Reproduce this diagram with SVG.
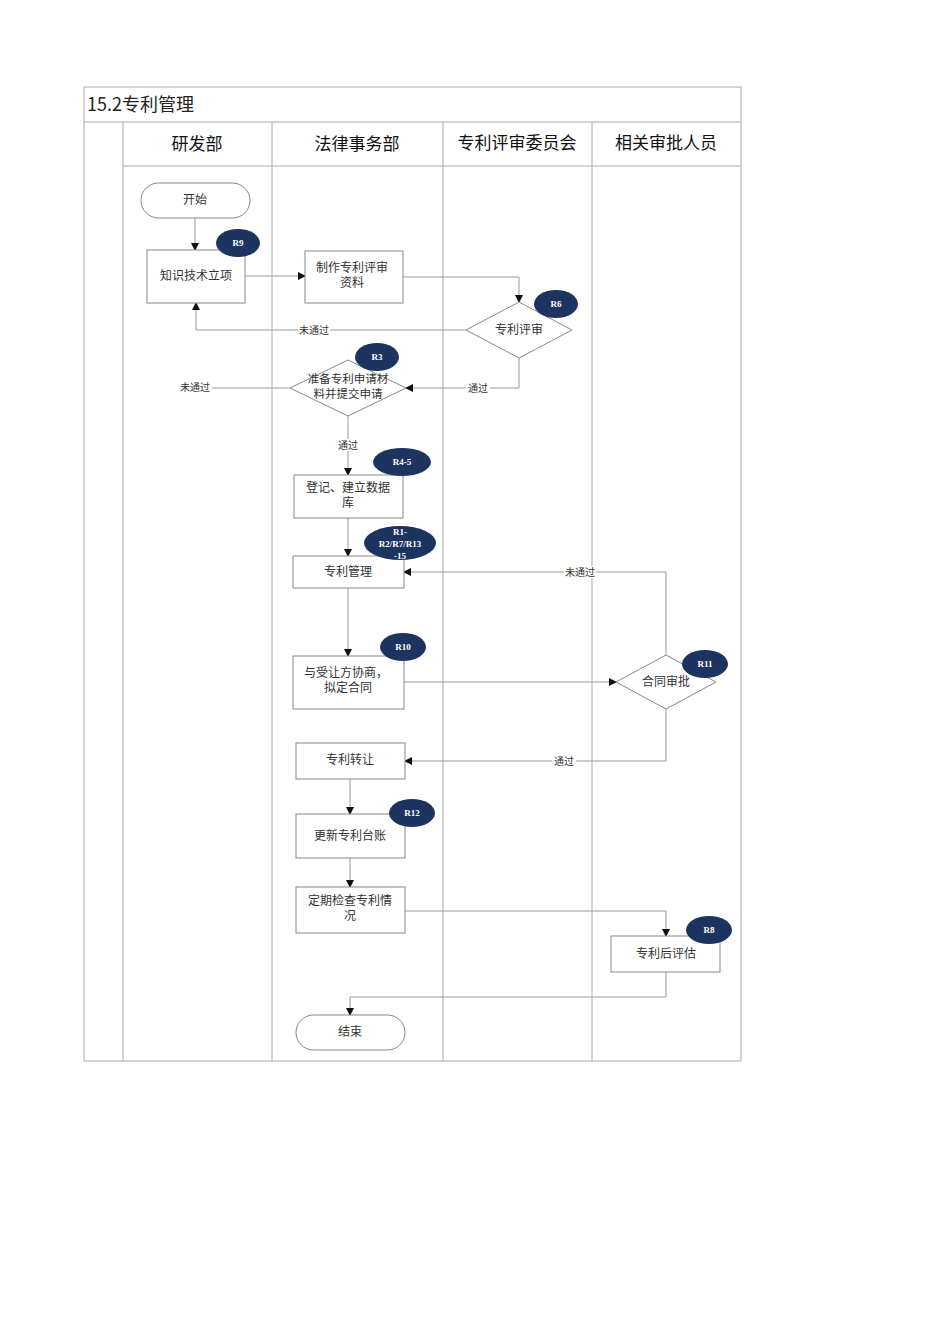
<svg xmlns="http://www.w3.org/2000/svg" width="950" height="1344" viewBox="0 0 950 1344">
<defs>
<style>
.t{font-family:"Noto Sans CJK SC","Liberation Serif",serif;fill:#333;text-anchor:middle}
.n{font-size:12px}
.s{font-size:10px}
.h{font-size:17px;fill:#111}
.b{fill:#fff;stroke:#888;stroke-width:1}
.g{stroke:#aaa;stroke-width:1;fill:none}
.c{stroke:#999;stroke-width:1;fill:none}
.r{fill:#1d3461}
.rt{font-family:"Liberation Serif",serif;font-size:9px;font-weight:bold;fill:#fff;text-anchor:middle}
.lb{fill:#fff}
</style>
<marker id="a" markerWidth="8" markerHeight="8" refX="7" refY="4" orient="auto" markerUnits="userSpaceOnUse"><path d="M0,0L8,4L0,8z" fill="#111"/></marker>
</defs>
<rect width="950" height="1344" fill="#fff"/>
<g id="table">
<rect x="84" y="87" width="657" height="974" class="g"/>
<line x1="84" y1="122" x2="741" y2="122" class="g"/>
<line x1="123" y1="166" x2="741" y2="166" class="g"/>
<line x1="123" y1="122" x2="123" y2="1061" class="g"/>
<line x1="272" y1="122" x2="272" y2="1061" class="g"/>
<line x1="443" y1="122" x2="443" y2="1061" class="g"/>
<line x1="592" y1="122" x2="592" y2="1061" class="g"/>
<text x="87" y="111" class="t" style="text-anchor:start;font-size:18px;fill:#222">15.2专利管理</text>
<text x="197" y="150" class="t h">研发部</text>
<text x="357" y="150" class="t h">法律事务部</text>
<text x="517" y="149" class="t h">专利评审委员会</text>
<text x="666" y="149" class="t h">相关审批人员</text>
</g>
<g id="connectors">
<path d="M195,218V250" class="c" marker-end="url(#a)"/>
<path d="M245,276H305" class="c" marker-end="url(#a)"/>
<path d="M403,277H519V302" class="c" marker-end="url(#a)"/>
<path d="M466,330H196V303" class="c" marker-end="url(#a)"/>
<path d="M519,358V388H406" class="c" marker-end="url(#a)"/>
<path d="M290,388H196" class="c"/>
<path d="M348,416V475" class="c" marker-end="url(#a)"/>
<path d="M348,518V556" class="c" marker-end="url(#a)"/>
<path d="M348,588V656" class="c" marker-end="url(#a)"/>
<path d="M404,682H616" class="c" marker-end="url(#a)"/>
<path d="M666,655V572H404" class="c" marker-end="url(#a)"/>
<path d="M666,709V761H405" class="c" marker-end="url(#a)"/>
<path d="M350,779V814" class="c" marker-end="url(#a)"/>
<path d="M350,858V887" class="c" marker-end="url(#a)"/>
<path d="M405,911H666V936" class="c" marker-end="url(#a)"/>
<path d="M666,972V997H350V1015" class="c" marker-end="url(#a)"/>
<rect x="298" y="324" width="32" height="12" class="lb"/><text x="314" y="334" class="t s">未通过</text>
<rect x="466" y="382" width="24" height="12" class="lb"/><text x="478" y="392" class="t s">通过</text>
<rect x="178" y="381" width="34" height="12" class="lb"/><text x="195" y="391" class="t s">未通过</text>
<rect x="336" y="439" width="24" height="12" class="lb"/><text x="348" y="449" class="t s">通过</text>
<rect x="564" y="566" width="32" height="12" class="lb"/><text x="580" y="576" class="t s">未通过</text>
<rect x="552" y="755" width="24" height="12" class="lb"/><text x="564" y="765" class="t s">通过</text>
</g>
<g id="start"><rect x="141" y="183" width="109" height="35" rx="17.5" class="b"/><text x="195" y="204" class="t n">开始</text></g>
<g id="n1"><rect x="147" y="250" width="98" height="53" class="b"/><text x="196" y="280" class="t n">知识技术立项</text><ellipse cx="238" cy="243" rx="22" ry="14" class="r"/><text x="238" y="246" class="rt">R9</text></g>
<g id="n2"><rect x="305" y="251" width="98" height="52" class="b"/><text x="352" y="272" class="t n">制作专利评审</text><text x="352" y="287" class="t n">资料</text></g>
<g id="d1"><path d="M519,302L572,330L519,358L466,330Z" class="b"/><text x="519" y="334" class="t n">专利评审</text><ellipse cx="556" cy="304" rx="22" ry="14" class="r"/><text x="556" y="307" class="rt">R6</text></g>
<g id="d2"><path d="M348,360L406,388L348,416L290,388Z" class="b"/><text x="348" y="383" class="t" style="font-size:11.5px">准备专利申请材</text><text x="348" y="398" class="t" style="font-size:11.5px">料并提交申请</text><ellipse cx="377" cy="357" rx="22" ry="14" class="r"/><text x="377" y="360" class="rt">R3</text></g>
<g id="n3"><rect x="294" y="475" width="109" height="43" class="b"/><text x="348" y="492" class="t n">登记、建立数据</text><text x="348" y="507" class="t n">库</text><ellipse cx="402" cy="462" rx="29" ry="14" class="r"/><text x="402" y="465" class="rt">R4-5</text></g>
<g id="n4"><rect x="293" y="556" width="111" height="32" class="b"/><text x="348" y="576" class="t n">专利管理</text><ellipse cx="400" cy="543" rx="36" ry="17" class="r"/><text x="400" y="535" class="rt">R1-</text><text x="400" y="547" class="rt">R2/R7/R13</text><text x="400" y="559" class="rt">-15</text></g>
<g id="n5"><rect x="293" y="656" width="111" height="53" class="b"/><text x="346" y="677" class="t n">与受让方协商，</text><text x="348" y="692" class="t n">拟定合同</text><ellipse cx="403" cy="647" rx="23" ry="14" class="r"/><text x="403" y="650" class="rt">R10</text></g>
<g id="d3"><path d="M666,655L716,682L666,709L616,682Z" class="b"/><text x="666" y="686" class="t n">合同审批</text><ellipse cx="705" cy="664" rx="23" ry="14" class="r"/><text x="705" y="667" class="rt">R11</text></g>
<g id="n6"><rect x="296" y="743" width="109" height="36" class="b"/><text x="350" y="764" class="t n">专利转让</text></g>
<g id="n7"><rect x="296" y="814" width="109" height="44" class="b"/><text x="350" y="840" class="t n">更新专利台账</text><ellipse cx="412" cy="813" rx="23" ry="14" class="r"/><text x="412" y="816" class="rt">R12</text></g>
<g id="n8"><rect x="296" y="887" width="109" height="46" class="b"/><text x="350" y="905" class="t n">定期检查专利情</text><text x="350" y="920" class="t n">况</text></g>
<g id="n9"><rect x="611" y="936" width="109" height="36" class="b"/><text x="666" y="958" class="t n">专利后评估</text><ellipse cx="709" cy="930" rx="23" ry="14" class="r"/><text x="709" y="933" class="rt">R8</text></g>
<g id="end"><rect x="296" y="1015" width="109" height="35" rx="17.5" class="b"/><text x="350" y="1036" class="t n">结束</text></g>
</svg>
